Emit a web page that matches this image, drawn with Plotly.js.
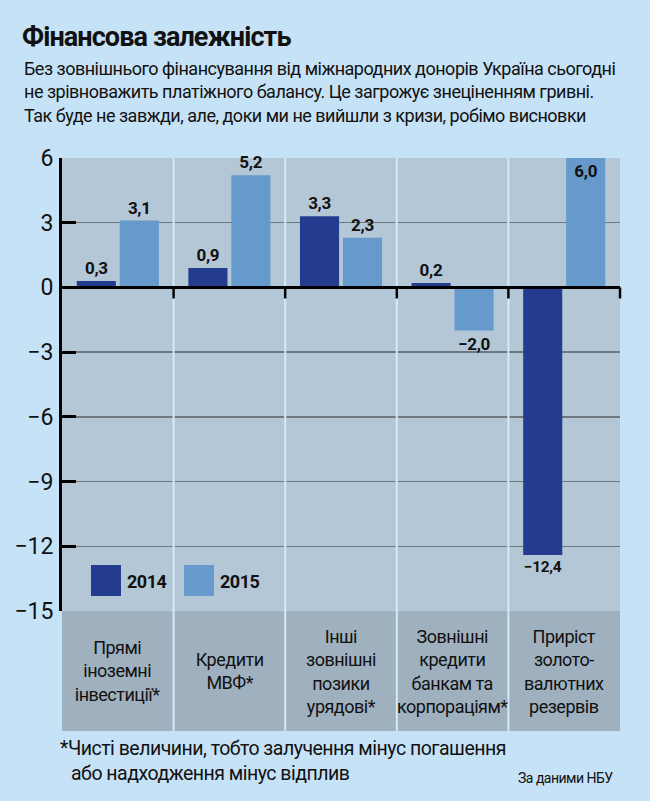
<!DOCTYPE html>
<html>
<head>
<meta charset="utf-8">
<script src="https://cdn.plot.ly/plotly-3.0.1.min.js"></script>
<style>
  html, body { margin: 0; padding: 0; background: #c6e2f6; }
  #chart { width: 650px; height: 801px; }
  /* tighter tracking for the text blocks, closer to a condensed face */
  #chart .annotation-text { letter-spacing: -0.5px; }
  #chart .gtitle { letter-spacing: -0.9px; }
  #chart .bartext { letter-spacing: -0.3px; }
</style>
</head>
<body>
<div id="chart"></div>
<script>
// Balance of payments financing sources, bn USD (NBU data)
const categories = [
  'Прямі<br>іноземні<br>інвестиції*',
  'Кредити<br>МВФ*',
  'Інші<br>зовнішні<br>позики<br>урядові*',
  'Зовнішні<br>кредити<br>банкам та<br>корпораціям*',
  'Приріст<br>золото-<br>валютних<br>резервів'
];
const seriesNames = ['2014', '2015'];
const values2014 = [0.3, 0.9, 3.3, 0.2, -12.4];
const values2015 = [3.1, 5.2, 2.3, -2.0, 6.0];
const yTickVals = [6, 3, 0, -3, -6, -9, -12, -15];
const yTickText = ['6', '3', '0', '−3', '−6', '−9', '−12', '−15'];

const COL_2014 = '#243c8e';
const COL_2015 = '#6699cc';
const FONT = 'Roboto, "Liberation Sans", sans-serif';

// Decimal comma and a true minus sign for the value labels
const fmt = v => v.toFixed(1).replace('.', ',').replace('-', '−');

// Plot area geometry in pixels (used to place the decorations in paper units)
const W = 650, H = 801;
const M = { l: 62, r: 30, t: 158, b: 190 };
const plotH = H - M.t - M.b;
const plotW = W - M.l - M.r;
const bandDepth = 120 / plotH;           // grey strip holding the category names
const px = x => (x - M.l) / plotW;       // page x -> paper x
const py = y => (H - M.b - y) / plotH;   // page y -> paper y

const valueFont = { family: FONT, size: 17, weight: 700, color: '#111' };

const traces = [
  {
    type: 'bar', name: seriesNames[0], x: categories, y: values2014,
    marker: { color: COL_2014 },
    text: values2014.map(fmt), textposition: 'outside', textangle: 0,
    textfont: valueFont, outsidetextfont: valueFont,
    cliponaxis: false, hoverinfo: 'skip'
  },
  {
    type: 'bar', name: seriesNames[1], x: categories, y: values2015,
    marker: { color: COL_2015 },
    text: values2015.map(fmt),
    // the tallest bar reaches the top of the frame, so its label sits inside
    textposition: values2015.map(v => v >= 6 ? 'inside' : 'outside'),
    insidetextanchor: 'end', textangle: 0, constraintext: 'none',
    textfont: valueFont, insidetextfont: valueFont, outsidetextfont: valueFont,
    cliponaxis: false, hoverinfo: 'skip'
  }
];

const shapes = [];
// darker strip under the plot for the category names
shapes.push({ type: 'rect', xref: 'paper', yref: 'paper', x0: 0, x1: 1, y0: -bandDepth, y1: 0,
  fillcolor: '#9fb0bf', line: { width: 0 }, layer: 'below' });
// light column separators running through the plot and the name strip
for (let i = 1; i < categories.length; i++) {
  shapes.push({ type: 'line', xref: 'x domain', yref: 'paper', x0: i / categories.length, x1: i / categories.length,
    y0: -bandDepth, y1: 1, line: { color: '#d5e8f6', width: 2 }, layer: 'above' });
}
// zero line with ticks at column boundaries
shapes.push({ type: 'line', xref: 'paper', yref: 'y', x0: 0, x1: 1, y0: 0, y1: 0,
  line: { color: '#000', width: 3 }, layer: 'above' });
for (let i = 1; i <= categories.length; i++) {
  shapes.push({ type: 'line', xref: 'x domain', yref: 'y', ysizemode: 'pixel', yanchor: 0,
    x0: i / categories.length, x1: i / categories.length, y0: 0, y1: -11,
    line: { color: '#000', width: 2.5 }, layer: 'above' });
}
// legend swatches
const legendItems = [
  { name: seriesNames[0], color: COL_2014, x: 91 },
  { name: seriesNames[1], color: COL_2015, x: 184 }
];
const annotations = [];
legendItems.forEach(it => {
  shapes.push({ type: 'rect', xref: 'paper', yref: 'paper',
    x0: px(it.x), x1: px(it.x + 30), y0: py(596), y1: py(565),
    fillcolor: it.color, line: { width: 0 }, layer: 'above' });
  annotations.push({ xref: 'paper', yref: 'paper', x: px(it.x + 34), y: py(581),
    xanchor: 'left', yanchor: 'middle', align: 'left', showarrow: false, text: it.name,
    font: { family: FONT, size: 18, weight: 700, color: '#111' } });
});

// category names, centred in the strip
categories.forEach(c => {
  annotations.push({ xref: 'x', yref: 'paper', x: c, y: -bandDepth / 2,
    xanchor: 'center', yanchor: 'middle', showarrow: false, text: c, align: 'center',
    font: { family: FONT, size: 18, color: '#111' } });
});

// subtitle
annotations.push({ xref: 'paper', yref: 'paper', x: px(22), y: py(92),
  xanchor: 'left', yanchor: 'middle', align: 'left', showarrow: false,
  text: 'Без зовнішнього фінансування від міжнародних донорів Україна сьогодні<br>' +
        'не зрівноважить платіжного балансу. Це загрожує знеціненням гривні.<br>' +
        'Так буде не завжди, але, доки ми не вийшли з кризи, робімо висновки',
  font: { family: FONT, size: 18, color: '#111' } });

// footnote and source
annotations.push({ xref: 'paper', yref: 'paper', x: px(58), y: py(748),
  xanchor: 'left', yanchor: 'middle', align: 'left', showarrow: false,
  text: '*Чисті величини, тобто залучення мінус погашення',
  font: { family: FONT, size: 19.5, color: '#111' } });
annotations.push({ xref: 'paper', yref: 'paper', x: px(69), y: py(773),
  xanchor: 'left', yanchor: 'middle', align: 'left', showarrow: false,
  text: 'або надходження мінус відплив',
  font: { family: FONT, size: 19.5, color: '#111' } });
annotations.push({ xref: 'paper', yref: 'paper', x: px(516), y: py(778),
  xanchor: 'left', yanchor: 'middle', align: 'left', showarrow: false,
  text: 'За даними НБУ',
  font: { family: FONT, size: 14, color: '#111' } });

const layout = {
  width: W, height: H,
  margin: M,
  paper_bgcolor: '#c6e2f6',
  plot_bgcolor: '#b4c7d7',
  showlegend: false,
  barmode: 'group', bargap: 0.23, bargroupgap: 0.09,
  title: {
    text: 'Фінансова залежність',
    x: 22 / W, xref: 'container', xanchor: 'left',
    y: 1 - 37 / H, yref: 'container', yanchor: 'middle',
    font: { family: FONT, size: 27, weight: 700, color: '#111' }
  },
  xaxis: {
    type: 'category', range: [-0.5, categories.length - 0.5],
    showticklabels: false, ticks: '', showgrid: false, zeroline: false, showline: false,
    fixedrange: true
  },
  yaxis: {
    range: [-15, 6], tickvals: yTickVals, ticktext: yTickText,
    showline: true, linecolor: '#000', linewidth: 3,
    ticks: 'inside', ticklen: 14, tickwidth: 3, tickcolor: '#000',
    showgrid: true, gridcolor: '#6f7881', gridwidth: 1.5,
    zeroline: false, ticklabelstandoff: 1,
    tickfont: { family: FONT, size: 23, color: '#111' },
    fixedrange: true
  },
  shapes: shapes,
  annotations: annotations
};

Plotly.newPlot('chart', traces, layout, { staticPlot: true, displayModeBar: false });
</script>
</body>
</html>
